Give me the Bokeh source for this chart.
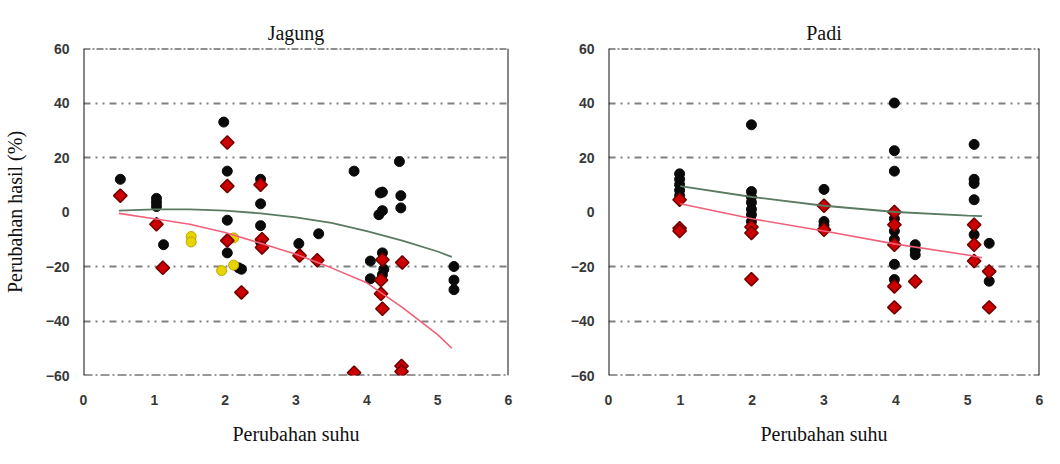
from bokeh.plotting import figure
from bokeh.layouts import row
from bokeh.models import FixedTicker, Span, LinearAxis
from bokeh.embed import file_html
from bokeh.resources import INLINE

# ---------------- data: Jagung ----------------
jag_black_x = [0.52, 1.03, 1.03, 1.03, 1.13, 1.98, 2.03, 2.03, 2.03, 2.19, 2.23, 2.5, 2.5, 2.5, 2.5,
               3.04, 3.32, 3.82, 4.22, 4.19, 4.17, 4.22, 4.48, 4.48, 4.46, 4.05, 4.05, 4.22, 4.24,
               4.22, 5.23, 5.23, 5.23]
jag_black_y = [12, 5, 3.5, 2, -12, 33, 15, -3, -15, -20.5, -21, 12, 3, -5, -11,
               -11.6, -8, 15, 7.3, 7, -1, 0.5, 6, 1.5, 18.5, -18, -24.5, -15, -21,
               -23, -20, -25, -28.5]
jag_red_x = [0.52, 1.03, 1.12, 2.03, 2.03, 2.03, 2.23, 2.5, 2.52, 2.52, 3.05, 3.3, 4.22, 4.2,
             4.2, 4.22, 4.5, 3.82, 4.49, 4.49]
jag_red_y = [6, -4.5, -20.5, 25.5, 9.5, -10.5, -29.5, 10, -10, -13, -16, -17.7, -17.5, -25,
             -30, -35.5, -18.5, -59, -56.5, -58.5]
jag_yel_x = [1.52, 1.52, 1.95, 2.12, 2.12]
jag_yel_y = [-9, -11, -21.5, -9.5, -19.5]
jag_fit1_x = [0.5, 1, 1.5, 2, 2.5, 3, 3.5, 4, 4.5, 5, 5.2]
jag_fit1_y = [0.5, 1, 1, 0.5, -0.5, -2, -4, -7, -10.5, -14.5, -16.5]
jag_fit2_x = [0.5, 1, 1.5, 2, 2.5, 3, 3.5, 4, 4.5, 5, 5.2]
jag_fit2_y = [-0.5, -2.5, -4.5, -7.5, -11.5, -15.5, -20.5, -26, -35, -45, -50]

# ---------------- data: Padi ----------------
padi_black_x = [0.99, 0.99, 0.99, 0.99, 0.99, 1.99, 1.99, 1.99, 1.99, 1.99, 1.99, 1.99,
                3.0, 3.0, 3.0, 3.98, 3.98, 3.98, 3.98, 3.98, 3.98, 3.98, 3.98,
                4.27, 4.27, 4.27, 5.09, 5.09, 5.09, 5.09, 5.09, 5.3, 5.3]
padi_black_y = [14, 12, 10, 8, 6, 32, 7.5, 5.5, 3.5, 1, -1, -3.5,
                8.3, -3.5, -5, 40, 22.5, 15, -2.5, -7, -10, -19.2, -24.8,
                -12, -14, -15.7, 24.8, 12, 10.5, 4.5, -8.3, -11.5, -25.4]
padi_red_x = [0.99, 0.99, 0.99, 1.99, 1.99, 1.99, 3.0, 3.0, 3.98, 3.98, 3.98, 3.98, 3.98,
              4.27, 5.09, 5.09, 5.09, 5.3, 5.3]
padi_red_y = [4.5, -6, -7, -5.5, -7.7, -24.7, 2.3, -6.5, 0, -4.7, -12, -27.3, -35,
              -25.5, -4.7, -12, -18, -21.8, -35]
padi_fit1_x = [1, 2, 3, 4, 5, 5.2]
padi_fit1_y = [9.5, 5.5, 2.3, 0, -1.3, -1.5]
padi_fit2_x = [1, 2, 3, 4, 5, 5.2]
padi_fit2_y = [3, -2.5, -7, -11.8, -15.8, -16.8]

x_ticks = [0, 1, 2, 3, 4, 5, 6]
y_ticks = [-60, -40, -20, 0, 20, 40, 60]
x_label = "Perubahan suhu"
y_label = "Perubahan hasil (%)"

SERIF = "Liberation Serif"
SANS = "Liberation Sans"


def make_panel(title, width, height, bl, br, bt, bb, title_gap, ylabel,
               bx, by, rx, ry, yx, yy, f1x, f1y, f2x, f2y):
    p = figure(width=width, height=height, x_range=(0, 6), y_range=(-60, 60),
               output_backend="svg", toolbar_location=None,
               min_border_left=bl, min_border_right=br, min_border_top=bt, min_border_bottom=bb)
    p.outline_line_color = None
    p.background_fill_color = "white"
    p.border_fill_color = "white"

    p.title.text = title
    p.title.align = "center"
    p.title.text_font = SERIF
    p.title.text_font_size = "20px"
    p.title.text_font_style = "normal"
    p.title.text_color = "#111111"
    p.title.standoff = 10

    p.xgrid.visible = False
    p.ygrid.ticker = FixedTicker(ticks=[-40, -20, 20, 40])
    p.ygrid.grid_line_color = "#808080"
    p.ygrid.grid_line_width = 2
    p.ygrid.grid_line_dash = "7 5 2 5 2 5"

    xb = p.below[0]
    yl = p.left[0]
    for ax in (xb, yl):
        ax.axis_line_color = None
        ax.major_tick_line_color = None
        ax.minor_tick_line_color = None
        ax.major_tick_out = 0
        ax.major_tick_in = 0
        ax.major_label_text_font = SANS
        ax.major_label_text_font_style = "bold"
        ax.major_label_text_font_size = "14px"
        ax.major_label_text_color = "#383838"
        ax.axis_label_text_font = SERIF
        ax.axis_label_text_font_size = "20px"
        ax.axis_label_text_font_style = "normal"
        ax.axis_label_text_color = "#111111"
    xb.ticker = FixedTicker(ticks=x_ticks)
    yl.ticker = FixedTicker(ticks=y_ticks)
    xb.major_label_standoff = 19
    yl.major_label_standoff = 14
    xb.axis_label = x_label
    xb.axis_label_standoff = 15
    if ylabel:
        yl.axis_label = ylabel
        yl.axis_label_standoff = 17

    # empty spacer axis above the frame lifts the title away from the frame
    spacer = LinearAxis(ticker=FixedTicker(ticks=[]), axis_line_color=None,
                        major_tick_line_color=None, minor_tick_line_color=None,
                        major_tick_out=title_gap, major_tick_in=0,
                        major_label_text_font_size="0px")
    p.add_layout(spacer, "above")

    # frame
    p.add_layout(Span(location=60, dimension="width", line_color="#222222",
                      line_width=2, line_dash="7 2 2 2"))
    p.add_layout(Span(location=-60, dimension="width", line_color="#333333",
                      line_width=2, line_dash="9 3 2 3"))
    p.add_layout(Span(location=0, dimension="height", line_color="#111111", line_width=2))
    p.add_layout(Span(location=6, dimension="height", line_color="#111111", line_width=2))

    p.scatter(bx, by, marker="circle", size=10, fill_color="#0a0a0a", line_color="#0a0a0a")
    if yx:
        p.scatter(yx, yy, marker="circle", size=10, fill_color="#e8d400", line_color="#b8a800")
    p.scatter(rx, ry, marker="square", angle=0.785398, size=9.5, fill_color="#cc0000",
              line_color="#700000", line_width=1.5)

    p.line(f1x, f1y, line_color="#5a7a62", line_width=1.8)
    p.line(f2x, f2y, line_color="#f0607a", line_width=1.6)
    return p


p1 = make_panel("Jagung", 522, 448, 80, 14, 43, 73, 11, y_label,
                jag_black_x, jag_black_y, jag_red_x, jag_red_y, jag_yel_x, jag_yel_y,
                jag_fit1_x, jag_fit1_y, jag_fit2_x, jag_fit2_y)
p2 = make_panel("Padi", 522, 448, 86, 5, 48, 71, 16, None,
                padi_black_x, padi_black_y, padi_red_x, padi_red_y, [], [],
                padi_fit1_x, padi_fit1_y, padi_fit2_x, padi_fit2_y)

layout = row(p1, p2)
open("out.html", "w").write(file_html(layout, INLINE))
